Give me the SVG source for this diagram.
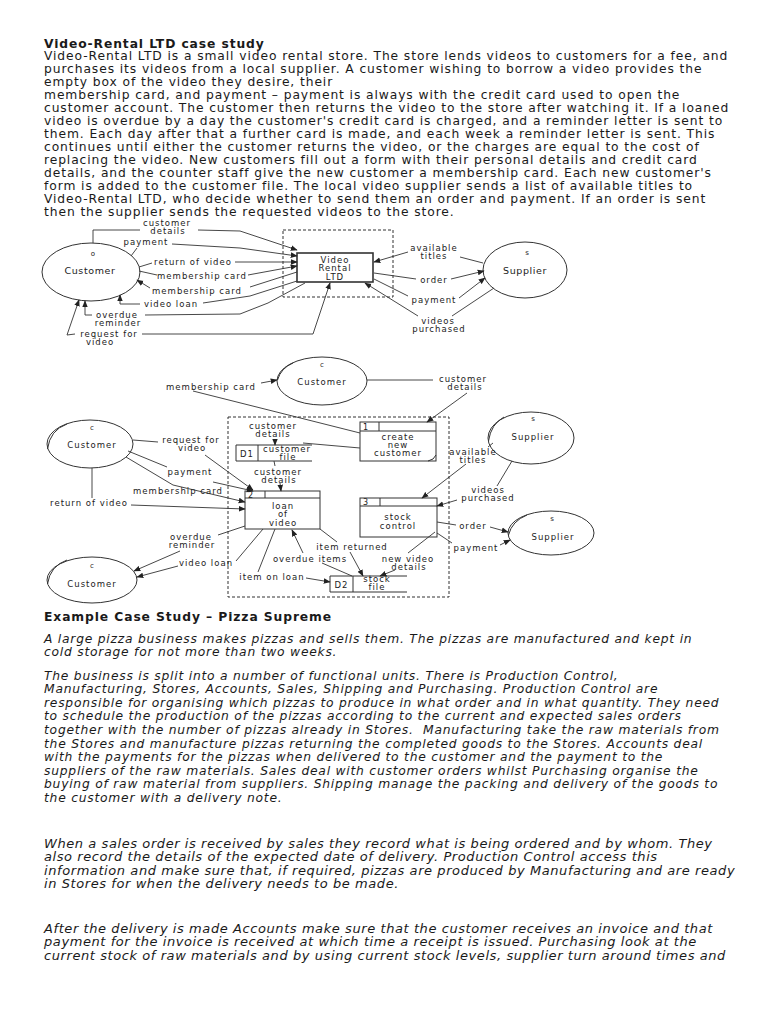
<svg xmlns="http://www.w3.org/2000/svg" width="768" height="1024" viewBox="0 0 768 1024">
<style>
.t{font-family:"DejaVu Sans",Verdana,sans-serif;font-size:12.3px;letter-spacing:0.9px;fill:#1a1a1a}
.b{font-weight:bold}
.i{font-style:italic;letter-spacing:0.77px}
.j{font-style:italic;font-size:13px;letter-spacing:0.58px}
.lb{font-family:"DejaVu Sans",Verdana,sans-serif;font-size:8.5px;letter-spacing:1px;fill:#222;text-anchor:middle}
.sm{font-family:"DejaVu Sans",Verdana,sans-serif;font-size:7px;fill:#222;text-anchor:middle}
.nd{fill:none;stroke:#333;stroke-width:1}
.bx{fill:#fff;stroke:#333;stroke-width:1}
.dash{fill:none;stroke:#333;stroke-width:1;stroke-dasharray:3,2}
.c path{fill:none;stroke:#333;stroke-width:0.9}
.a{marker-end:url(#ah)}
</style>
<defs>
<marker id="ah" viewBox="0 0 10 10" refX="9" refY="5" markerWidth="7" markerHeight="7" markerUnits="userSpaceOnUse" orient="auto"><path d="M0,1 L10,5 L0,9 z" fill="#222"/></marker>
</defs>
<rect width="768" height="1024" fill="#fff"/>

<g id="text-video-rental">
<text class="t b" x="44" y="47.5">Video-Rental LTD case study</text>
<text class="t" x="44" y="60">Video-Rental LTD is a small video rental store. The store lends videos to customers for a fee, and</text>
<text class="t" x="44" y="73">purchases its videos from a local supplier. A customer wishing to borrow a video provides the</text>
<text class="t" x="44" y="86">empty box of the video they desire, their</text>
<text class="t" x="44" y="99">membership card, and payment – payment is always with the credit card used to open the</text>
<text class="t" x="44" y="112">customer account. The customer then returns the video to the store after watching it. If a loaned</text>
<text class="t" x="44" y="125">video is overdue by a day the customer's credit card is charged, and a reminder letter is sent to</text>
<text class="t" x="44" y="138">them. Each day after that a further card is made, and each week a reminder letter is sent. This</text>
<text class="t" x="44" y="151">continues until either the customer returns the video, or the charges are equal to the cost of</text>
<text class="t" x="44" y="164">replacing the video. New customers fill out a form with their personal details and credit card</text>
<text class="t" x="44" y="177">details, and the counter staff give the new customer a membership card. Each new customer's</text>
<text class="t" x="44" y="190">form is added to the customer file. The local video supplier sends a list of available titles to</text>
<text class="t" x="44" y="203">Video-Rental LTD, who decide whether to send them an order and payment. If an order is sent</text>
<text class="t" x="44" y="216">then the supplier sends the requested videos to the store.</text>
</g>

<!-- Diagram 1: context diagram -->
<g id="d1-customer">
<ellipse class="nd" cx="91" cy="272" rx="49" ry="29"/>
<text class="sm" x="93" y="256">o</text>
<text class="lb" x="90" y="274" style="font-size:9.5px;letter-spacing:0.6px">Customer</text>
</g>
<g id="d1-system-boundary"><rect class="dash" x="283" y="230" width="110" height="67"/></g>
<g id="d1-video-rental">
<rect class="bx" x="297" y="253" width="76" height="29" style="stroke-width:1.6"/>
<text class="lb" x="335" y="262.5">Video</text>
<text class="lb" x="335" y="270.5">Rental</text>
<text class="lb" x="335" y="279.5">LTD</text>
</g>
<g id="d1-supplier">
<ellipse class="nd" cx="525" cy="270" rx="42" ry="28"/>
<text class="sm" x="527" y="255">s</text>
<text class="lb" x="525" y="274" style="font-size:9.5px;letter-spacing:0.6px">Supplier</text>
</g>

<g id="d1-connectors" class="c">
<path d="M93,243 L93,230 L140,230"/>
<path class="a" d="M198,230 L240,231 L297,250"/>
<path d="M131,256 L137,248"/>
<path class="a" d="M172,244 L240,248 L297,256"/>
<path d="M139,267 L152,263"/>
<path class="a" d="M235,262 L297,262"/>
<path d="M139,271 L157,275"/>
<path class="a" d="M248,275 L297,266"/>
<path d="M297,272 L250,287"/>
<path class="a" d="M150,288 L137,280"/>
<path d="M297,281 L250,296 L203,303"/>
<path class="a" d="M140,304 L120,304 L120,295"/>
<path d="M305,283 L268,303 L240,314 L145,315"/>
<path class="a" d="M92,315 L85,315 L85,301"/>
<path class="a" d="M75,334 L67,335 L79,300"/>
<path class="a" d="M142,334 L313,334 L330,283"/>
<path d="M483,263 L460,257"/>
<path class="a" d="M408,252 L374,262"/>
<path d="M374,273 L416,279"/>
<path class="a" d="M451,279 L484,271"/>
<path d="M374,279 L408,296"/>
<path class="a" d="M459,298 L485,278"/>
<path d="M494,288 L452,316"/>
<path class="a" d="M418,316 L365,283"/>
<g class="lbs">
<text class="lb" x="167" y="225.5">customer</text>
<text class="lb" x="168" y="233.5">details</text>
<text class="lb" x="146" y="245">payment</text>
<text class="lb" x="193" y="265">return of video</text>
<text class="lb" x="202" y="279">membership card</text>
<text class="lb" x="197" y="294">membership card</text>
<text class="lb" x="171" y="307">video loan</text>
<text class="lb" x="117" y="318">overdue</text>
<text class="lb" x="118" y="326">reminder</text>
<text class="lb" x="109" y="337">request for</text>
<text class="lb" x="100" y="345">video</text>
<text class="lb" x="434" y="251">available</text>
<text class="lb" x="434" y="259">titles</text>
<text class="lb" x="434" y="283">order</text>
<text class="lb" x="434" y="303">payment</text>
<text class="lb" x="438" y="323.5">videos</text>
<text class="lb" x="439" y="331.5">purchased</text>
</g>
</g>

<!-- Diagram 2: level 1 DFD -->
<g id="d2-system-boundary"><rect class="dash" x="228" y="417" width="221" height="180"/></g>
<g id="d2-customer-top">
<ellipse class="nd" cx="322" cy="381" rx="45" ry="24"/>
<path class="nd" d="M277.5,380 Q281,368 293,363"/>
<text class="sm" x="322" y="367">c</text>
<text class="lb" x="322" y="385">Customer</text>
</g>
<g id="d2-customer-left">
<ellipse class="nd" cx="90" cy="444" rx="43" ry="24"/>
<path class="nd" d="M47.5,449 Q50,430 67,424"/>
<text class="sm" x="92" y="430">c</text>
<text class="lb" x="92" y="447.5">Customer</text>
</g>
<g id="d2-customer-bottom">
<ellipse class="nd" cx="92" cy="580" rx="45" ry="23"/>
<path class="nd" d="M47.5,584 Q50,566 67,560"/>
<text class="sm" x="92" y="568">c</text>
<text class="lb" x="92" y="586.5">Customer</text>
</g>
<g id="d2-supplier-top">
<ellipse class="nd" cx="531" cy="438" rx="43" ry="26"/>
<path class="nd" d="M488.5,441 Q491,424 504,417"/>
<text class="sm" x="533" y="421">s</text>
<text class="lb" x="533" y="440">Supplier</text>
</g>
<g id="d2-supplier-bottom">
<ellipse class="nd" cx="551" cy="533" rx="43" ry="22"/>
<path class="nd" d="M508.5,535 Q512,521 527,515"/>
<text class="sm" x="552" y="521">s</text>
<text class="lb" x="553" y="540">Supplier</text>
</g>
<g id="d2-p1-create-new-customer">
<rect class="bx" x="360" y="422" width="76" height="39"/>
<path class="nd" d="M360,431 L436,431 M379,422 L379,431 M428,461 Q434,460 436,455"/>
<text class="lb" x="366" y="429.5" style="font-size:8px">1</text>
<text class="lb" x="398" y="439.5">create</text>
<text class="lb" x="398" y="447.5">new</text>
<text class="lb" x="398" y="455.5">customer</text>
</g>
<g id="d2-p2-loan-of-video">
<rect class="bx" x="245" y="491" width="75" height="38"/>
<path class="nd" d="M245,498 L320,498 M265,491 L265,498"/>
<text class="lb" x="251" y="497.5" style="font-size:8px">2</text>
<text class="lb" x="283" y="509">loan</text>
<text class="lb" x="283" y="517">of</text>
<text class="lb" x="283" y="525.5">video</text>
</g>
<g id="d2-p3-stock-control">
<rect class="bx" x="360" y="498" width="77" height="39"/>
<path class="nd" d="M360,506 L437,506 M380,498 L380,506"/>
<text class="lb" x="366" y="504.5" style="font-size:8px">3</text>
<text class="lb" x="398" y="520">stock</text>
<text class="lb" x="398" y="528.5">control</text>
</g>
<g id="d2-d1-customer-file">
<path class="nd" d="M312,445 L236,445 L236,461 L312,461 M258,445 L258,461"/>
<text class="lb" x="247" y="456.5">D1</text>
<text class="lb" x="287" y="452">customer</text>
<text class="lb" x="288" y="460">file</text>
</g>
<g id="d2-d2-stock-file">
<path class="nd" d="M407,576 L330,576 L330,592 L407,592 M353,576 L353,592"/>
<text class="lb" x="341.5" y="588">D2</text>
<text class="lb" x="377" y="582">stock</text>
<text class="lb" x="377" y="590">file</text>
</g>

<g id="d2-connectors" class="c">
<path class="a" d="M261,383 L277,380"/>
<path d="M360,433 L193,391"/>
<path d="M367,380 L433,380"/>
<path class="a" d="M467,393 L427,422"/>
<path d="M303,443 L360,448"/>
<path class="a" d="M275,439 L275,445"/>
<path d="M274,461 L275,466"/>
<path class="a" d="M280,483 L281,491"/>
<path d="M133,440 L158,442"/>
<path class="a" d="M205,455 L253,490"/>
<path d="M128,451 L167,467"/>
<path class="a" d="M213,482 L253,491"/>
<path class="a" d="M126,457 L173,485 L245,502"/>
<path d="M92,468 L92,498"/>
<path class="a" d="M131,505 L245,509"/>
<path d="M245,526 L218,535"/>
<path class="a" d="M180,551 L134,571"/>
<path d="M263,529 L236,561"/>
<path class="a" d="M178,566 L137,577"/>
<path d="M275,529 L258,572"/>
<path class="a" d="M306,578 L330,582"/>
<path d="M352,576 L322,563"/>
<path class="a" d="M303,553 L292,530"/>
<path d="M320,529 L337,542"/>
<path class="a" d="M350,552 L363,576"/>
<path d="M435,532 L408,553"/>
<path class="a" d="M395,570 L380,576"/>
<path d="M493,443 L488,447"/>
<path class="a" d="M466,464 L422,498"/>
<path d="M512,461 L497,486"/>
<path class="a" d="M457,500 L437,506"/>
<path d="M437,522 L456,525"/>
<path class="a" d="M490,527 L508,532"/>
<path d="M437,533 L452,543"/>
<path class="a" d="M500,545 L510,540"/>
<g class="lbs">
<text class="lb" x="211" y="390">membership card</text>
<text class="lb" x="463" y="382">customer</text>
<text class="lb" x="465" y="390">details</text>
<text class="lb" x="273" y="429">customer</text>
<text class="lb" x="273" y="437">details</text>
<text class="lb" x="278" y="474.5">customer</text>
<text class="lb" x="279" y="482.5">details</text>
<text class="lb" x="191" y="443">request for</text>
<text class="lb" x="192" y="451">video</text>
<text class="lb" x="190" y="475">payment</text>
<text class="lb" x="178" y="494">membership card</text>
<text class="lb" x="89" y="506">return of video</text>
<text class="lb" x="191" y="540">overdue</text>
<text class="lb" x="192" y="548">reminder</text>
<text class="lb" x="206" y="566">video loan</text>
<text class="lb" x="272" y="580">item on loan</text>
<text class="lb" x="310" y="562">overdue items</text>
<text class="lb" x="352" y="550">item returned</text>
<text class="lb" x="408" y="561.5">new video</text>
<text class="lb" x="409" y="569.5">details</text>
<text class="lb" x="473" y="454.5">available</text>
<text class="lb" x="473" y="462.5">titles</text>
<text class="lb" x="488" y="493">videos</text>
<text class="lb" x="488" y="501">purchased</text>
<text class="lb" x="473" y="529">order</text>
<text class="lb" x="476" y="551">payment</text>
</g>
</g>

<g id="text-pizza">
<text class="t b" x="44" y="621">Example Case Study – Pizza Supreme</text>
<text class="t i" x="44" y="642.5">A large pizza business makes pizzas and sells them. The pizzas are manufactured and kept in</text>
<text class="t i" x="44" y="656">cold storage for not more than two weeks.</text>
<text class="t i" x="44" y="679.5">The business is split into a number of functional units. There is Production Control,</text>
<text class="t i" x="44" y="693.1">Manufacturing, Stores, Accounts, Sales, Shipping and Purchasing. Production Control are</text>
<text class="t i" x="44" y="706.7">responsible for organising which pizzas to produce in what order and in what quantity. They need</text>
<text class="t i" x="44" y="720.3">to schedule the production of the pizzas according to the current and expected sales orders</text>
<text class="t i" x="44" y="733.9" xml:space="preserve">together with the number of pizzas already in Stores.  Manufacturing take the raw materials from</text>
<text class="t i" x="44" y="747.5">the Stores and manufacture pizzas returning the completed goods to the Stores. Accounts deal</text>
<text class="t i" x="44" y="761.1">with the payments for the pizzas when delivered to the customer and the payment to the</text>
<text class="t i" x="44" y="774.7">suppliers of the raw materials. Sales deal with customer orders whilst Purchasing organise the</text>
<text class="t i" x="44" y="788.3">buying of raw material from suppliers. Shipping manage the packing and delivery of the goods to</text>
<text class="t i" x="44" y="801.9">the customer with a delivery note.</text>
<text class="t j" x="44" y="847.5">When a sales order is received by sales they record what is being ordered and by whom. They</text>
<text class="t j" x="44" y="861">also record the details of the expected date of delivery. Production Control access this</text>
<text class="t j" x="44" y="874.5">information and make sure that, if required, pizzas are produced by Manufacturing and are ready</text>
<text class="t j" x="44" y="888">in Stores for when the delivery needs to be made.</text>
<text class="t j" x="44" y="932.5">After the delivery is made Accounts make sure that the customer receives an invoice and that</text>
<text class="t j" x="44" y="946">payment for the invoice is received at which time a receipt is issued. Purchasing look at the</text>
<text class="t j" x="44" y="959.5">current stock of raw materials and by using current stock levels, supplier turn around times and</text>
</g>
</svg>
